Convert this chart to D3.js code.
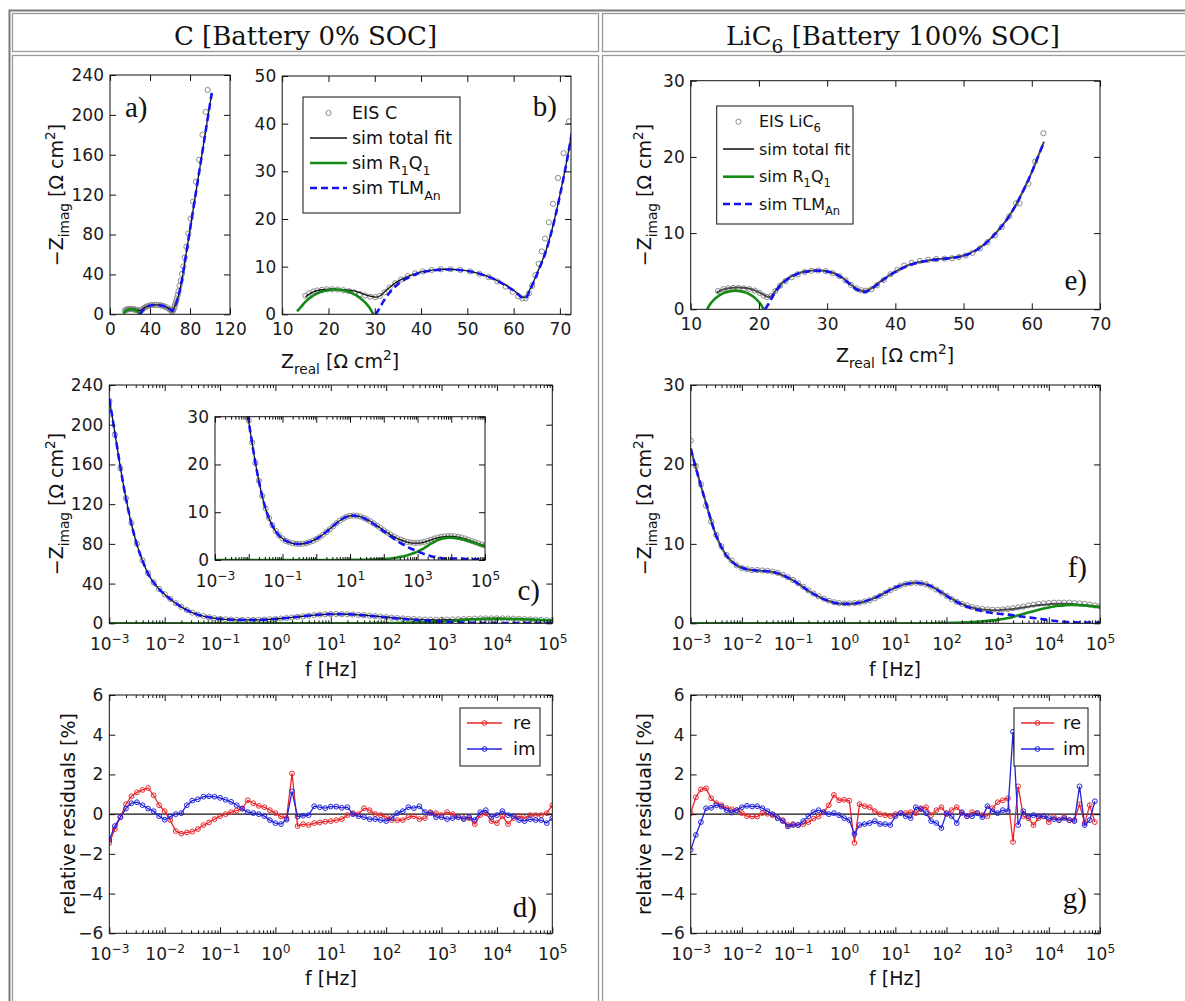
<!DOCTYPE html>
<html>
<head>
<meta charset="utf-8">
<script src="https://cdn.jsdelivr.net/npm/d3@7"></script>
<style>body{margin:0;background:#fff}svg{display:block}</style>
</head>
<body>
<script>
// ---------------- data ----------------
const columnTitles = [
  [["C [Battery 0% SOC]", ""]],
  [["LiC", ""], ["6", "sub"], [" [Battery 100% SOC]", ""]]
];

// measurement frequency grid (decade exponent of f in Hz)
const freqExp = [-3,-2.9,-2.8,-2.7,-2.6,-2.5,-2.4,-2.3,-2.2,-2.1,-2,-1.9,-1.8,-1.7,-1.6,-1.5,-1.4,-1.3,-1.2,-1.1,
  -1,-0.9,-0.8,-0.7,-0.6,-0.5,-0.4,-0.3,-0.2,-0.1,0,0.1,0.2,0.3,0.4,0.5,0.6,0.7,0.8,0.9,
  1,1.1,1.2,1.3,1.4,1.5,1.6,1.7,1.8,1.9,2,2.1,2.2,2.3,2.4,2.5,2.6,2.7,2.8,2.9,
  3,3.1,3.2,3.3,3.4,3.5,3.6,3.7,3.8,3.9,4,4.1,4.2,4.3,4.4,4.5,4.6,4.7,4.8,4.9,5];

// ---- C (0% SOC): -Zimag vs f ----
const cEisBode = [224,190,156,126,101,80,63.5,50.5,41.2,34.6, 29.2,24.6,20.3,16.6,13.4,10.8,8.8,7.3,6.05,5.15,
  4.5,4.0,3.7,3.5,3.4,3.35,3.4,3.5,3.75,4.0, 4.35,4.8,5.3,5.85,6.45,7.05,7.7,8.25,8.7,9.05,
  9.25,9.3,9.25,9.1,8.85,8.5,8.1,7.65,7.2,6.7, 6.2,5.75,5.3,4.9,4.55,4.25,4.0,3.8,3.65,3.6,
  3.6,3.65,3.8,4.0,4.25,4.5,4.7,4.85,4.95,5.0, 5.0,4.95,4.85,4.7,4.5,4.25,4.0,3.75,3.5,3.25, 3.05];
const cFitBode = [226,192,157,126,100,79,63,50,41,34.5, 29,24.5,20.2,16.5,13.3,10.7,8.7,7.2,6.0,5.1,
  4.5,4.0,3.7,3.5,3.4,3.35,3.4,3.55,3.75,4.05, 4.4,4.85,5.35,5.9,6.5,7.1,7.7,8.25,8.7,9.05,
  9.25,9.3,9.25,9.1,8.85,8.5,8.1,7.65,7.2,6.7, 6.2,5.75,5.3,4.9,4.5,4.2,3.95,3.75,3.6,3.55,
  3.55,3.6,3.75,3.95,4.2,4.45,4.65,4.8,4.9,4.95, 4.95,4.9,4.8,4.65,4.45,4.2,3.95,3.7,3.45,3.2, 3.0];
const cRQBode = [0,0,0,0,0,0,0,0,0,0, 0,0,0,0,0,0,0,0,0,0, 0,0,0,0,0,0,0,0,0,0, 0,0,0,0,0,0,0,0,0,0,
  0.02,0.02,0.03,0.04,0.05,0.07,0.09,0.11,0.14,0.17, 0.2,0.26,0.33,0.42,0.52,0.65,0.8,0.98,1.2,1.45,
  1.75,2.1,2.5,2.95,3.4,3.8,4.15,4.4,4.58,4.65, 4.65,4.6,4.5,4.37,4.2,4.0,3.78,3.55,3.3,3.05, 2.8];
const cTlmBode = [226,192,157,126,100,79,63,50,41,34.5, 29,24.5,20.2,16.5,13.3,10.7,8.7,7.2,6.0,5.1,
  4.5,4.0,3.7,3.5,3.4,3.35,3.4,3.55,3.75,4.05, 4.4,4.85,5.35,5.9,6.5,7.1,7.7,8.25,8.7,9.05,
  9.23,9.28,9.22,9.06,8.8,8.43,8.01,7.54,7.06,6.53, 6.0,5.49,4.97,4.48,3.98,3.55,3.15,2.77,2.4,2.1,
  1.8,1.5,1.25,1.0,0.8,0.65,0.5,0.4,0.32,0.3, 0.3,0.3,0.3,0.28,0.25,0.2,0.17,0.15,0.15,0.15, 0.2];
const cResRe = [-1.45,-0.75,-0.15,0.5,0.9,1.1,1.22,1.32,0.95,0.45, 0.15,-0.3,-0.85,-0.98,-0.92,-0.88,-0.75,-0.55,-0.42,-0.25,
  -0.1,0.0,0.1,0.18,0.28,0.7,0.55,0.42,0.35,0.2, 0.05,-0.12,-0.2,2.05,-0.6,-0.5,-0.55,-0.45,-0.42,-0.38,
  -0.35,-0.3,-0.25,-0.05,0.05,0.0,0.3,0.2,0.0,-0.05, -0.15,-0.3,-0.3,-0.3,-0.15,-0.1,-0.25,-0.2,0.1,0.05,
  -0.05,0.1,0.0,-0.15,-0.2,-0.2,-0.5,-0.05,0.05,-0.35, -0.45,-0.1,-0.5,-0.2,-0.1,-0.2,-0.05,-0.05,-0.05,0.05, 0.45];
const cResIm = [-1.3,-0.6,-0.15,0.28,0.55,0.6,0.45,0.28,0.15,-0.1, -0.28,-0.12,0.0,0.05,0.45,0.68,0.75,0.88,0.9,0.88,
  0.82,0.72,0.62,0.45,0.28,0.1,0.05,0.0,-0.1,-0.3, -0.45,-0.5,-0.28,1.15,-0.12,-0.08,-0.05,0.4,0.35,0.3,
  0.38,0.38,0.32,0.35,0.0,-0.1,-0.15,-0.25,-0.25,-0.3, -0.35,-0.2,0.05,0.15,0.35,0.3,0.4,0.1,0.05,-0.15,
  -0.15,-0.25,-0.2,-0.15,-0.25,-0.15,-0.3,0.1,0.2,-0.15, -0.05,0.15,-0.05,-0.1,-0.3,-0.35,-0.25,-0.3,-0.3,-0.45, -0.2];

// ---- C (0% SOC): Nyquist [Zreal, -Zimag] ----
const cEisNyq = [[15.0,3.9],[15.8,4.4],[16.7,4.8],[17.6,5.0],[18.6,5.15],[19.7,5.25],[20.8,5.25],[22.0,5.2],[23.2,5.05],
  [24.4,4.85],[25.6,4.6],[26.8,4.25],[27.9,3.95],[29.0,3.7],[30.1,3.6],[31.1,3.85],[32.1,4.6],[33.2,5.6],[34.4,6.5],
  [35.7,7.3],[37.1,8.0],[38.7,8.6],[40.4,9.0],[42.3,9.3],[44.3,9.45],[46.4,9.45],[48.5,9.3],[50.6,9.0],[52.6,8.5],
  [54.6,7.8],[56.5,6.9],[58.3,5.8],[59.8,4.7],[61.0,3.8],[61.9,3.3],[62.6,3.4],[63.3,4.4],[64.0,6.0],[64.7,8.2],
  [65.4,10.6],[66.1,13.2],[66.8,15.9],[67.6,19.3],[68.5,23.2],[69.6,28.6],[70.8,33.8],[72.0,40.5],[73.3,48],
  [74.7,57],[76.4,68],[78.4,81],[80.6,96],[83.1,113],[85.9,133],[89.1,155],[92.5,180],[95.6,203],[97.6,225]];
const cFitNyq = [[15.0,3.6],[15.6,4.1],[17.0,4.8],[18.6,5.15],[20.3,5.3],[22.4,5.25],[24.5,5.05],[26.4,4.65],[28.0,4.1],
  [29.3,3.75],[30.3,3.6],[31.2,3.9],[32.2,4.8],[33.5,5.9],[35.0,6.9],[36.8,7.8],[38.6,8.5],[40.6,9.0],[42.8,9.3],
  [45.0,9.45],[47.2,9.4],[49.3,9.2],[51.4,8.85],[53.5,8.25],[55.6,7.5],[57.6,6.5],[59.5,5.4],[61.0,4.3],[62.0,3.6],
  [62.7,3.7],[63.4,5.0],[64.3,6.8],[65.5,9.6],[66.8,12.8],[68.3,17.8],[70.0,25.0],[72.2,36],[75,53.6],[80,85],
  [85,116.5],[90,148],[95,179.5],[100,211],[101.8,222]];
const cRQNyq = [[13.2,0.6],[14,1.48],[15,2.61],[16,3.45],[17.5,4.33],[19,4.88],[21.4,5.2],[23.8,4.88],[25.3,4.33],
  [26.8,3.45],[27.8,2.61],[28.8,1.48],[29.7,0]];
const cTlmNyq = [[30.2,0],[30.8,0.9],[31.8,2.6],[33,4.3],[34.5,5.9],[36.5,7.3],[38.6,8.3],[40.6,8.9],[42.8,9.25],
  [45.0,9.4],[47.2,9.38],[49.3,9.18],[51.4,8.83],[53.5,8.22],[55.6,7.45],[57.6,6.45],[59.5,5.3],[61.0,4.15],[62.0,3.4],
  [62.7,3.5],[63.4,4.8],[64.3,6.7],[65.5,9.5],[66.8,12.7],[68.3,17.7],[70.0,24.9],[72.2,35.9],[75,53.5],[80,84.9],
  [85,116.4],[90,147.9],[95,179.4],[100,210.9],[101.8,221.9]];

// ---- LiC6 (100% SOC): -Zimag vs f ----
const lEisBode = [23.0,19.8,17.5,14.8,12.8,11.1,9.7,8.6,7.9,7.3, 6.95,6.8,6.7,6.7,6.65,6.6,6.5,6.35,6.1,5.8,
  5.45,5.05,4.6,4.15,3.75,3.4,3.1,2.85,2.65,2.55, 2.5,2.5,2.55,2.6,2.75,2.9,3.15,3.45,3.8,4.15,
  4.45,4.75,4.95,5.05,5.1,5.05,4.9,4.6,4.25,3.85, 3.45,3.05,2.7,2.45,2.25,2.05,1.9,1.8,1.75,1.7,
  1.7,1.75,1.8,1.9,2.0,2.1,2.25,2.35,2.45,2.5, 2.55,2.6,2.6,2.6,2.6,2.55,2.5,2.45,2.35,2.25, 2.15];
const lFitBode = [22.0,19.6,17.3,15.1,12.9,11.0,9.6,8.5,7.8,7.3, 7.0,6.8,6.7,6.65,6.6,6.55,6.45,6.3,6.05,5.75,
  5.4,5.0,4.55,4.1,3.7,3.35,3.05,2.8,2.6,2.5, 2.45,2.45,2.5,2.6,2.75,2.95,3.2,3.5,3.85,4.2,
  4.5,4.75,4.95,5.05,5.1,5.05,4.9,4.65,4.3,3.9, 3.5,3.1,2.75,2.45,2.2,2.0,1.85,1.75,1.7,1.65,
  1.65,1.7,1.75,1.8,1.9,2.0,2.1,2.2,2.3,2.35, 2.4,2.45,2.45,2.45,2.45,2.4,2.35,2.3,2.25,2.15, 2.1];
const lRQBode = [0,0,0,0,0,0,0,0,0,0, 0,0,0,0,0,0,0,0,0,0, 0,0,0,0,0,0,0,0,0,0, 0,0,0,0,0,0,0,0,0,0,
  0,0,0,0,0,0,0,0,0.02,0.03, 0.04,0.05,0.07,0.09,0.12,0.15,0.19,0.24,0.3,0.37,
  0.45,0.55,0.66,0.79,1.0,1.17,1.35,1.53,1.7,1.86, 2.0,2.12,2.2,2.26,2.3,2.3,2.28,2.24,2.18,2.1, 2.02];
const lTlmBode = [22.0,19.6,17.3,15.1,12.9,11.0,9.6,8.5,7.8,7.3, 7.0,6.8,6.7,6.65,6.6,6.55,6.45,6.3,6.05,5.75,
  5.4,5.0,4.55,4.1,3.7,3.35,3.05,2.8,2.6,2.5, 2.45,2.45,2.5,2.6,2.75,2.95,3.2,3.5,3.85,4.2,
  4.5,4.75,4.95,5.05,5.1,5.05,4.9,4.65,4.28,3.87, 3.46,3.05,2.68,2.36,2.08,1.85,1.66,1.51,1.4,1.28,
  1.2,1.15,1.09,1.01,0.9,0.83,0.75,0.67,0.6,0.49, 0.4,0.33,0.25,0.19,0.15,0.12,0.1,0.1,0.1,0.1, 0.1];
const lResRe = [0.05,0.85,1.25,1.3,0.8,0.55,0.45,0.3,0.25,0.2, 0.05,-0.1,-0.12,-0.12,0.05,0.02,-0.05,-0.2,-0.3,-0.55,
  -0.5,-0.55,-0.5,-0.4,-0.22,-0.12,0.1,0.45,0.97,0.7, 0.72,0.68,-1.45,0.5,0.4,0.35,0.15,0.0,-0.05,-0.1,
  0.0,0.05,0.05,0.1,0.05,0.3,0.35,-0.05,0.2,0.35, 0.0,0.2,0.35,0.05,-0.1,0.1,0.05,-0.05,-0.1,0.3,
  0.6,0.7,0.8,-1.4,1.4,-0.1,-0.2,-0.55,-0.2,-0.1, -0.4,-0.15,-0.3,-0.15,-0.3,-0.3,0.5,-0.45,0.45,-0.4];
const lResIm = [-1.8,-1.05,-0.4,0.3,0.32,0.45,0.38,0.2,0.08,0.2, 0.35,0.42,0.38,0.4,0.3,0.15,0.0,-0.2,-0.35,-0.62,
  -0.55,-0.55,-0.35,-0.1,0.1,0.2,0.1,0.0,0.05,-0.05, -0.2,-0.3,-1.0,-0.55,-0.5,-0.45,-0.35,-0.5,-0.5,-0.55,
  -0.1,0.05,-0.1,-0.2,0.35,0.25,0.05,-0.35,-0.45,-0.7, 0.05,-0.1,-0.45,0.1,-0.1,-0.1,0.05,-0.15,0.4,0.15,
  0.05,0.2,0.15,4.15,-0.55,0.15,-0.1,-0.05,-0.1,-0.1, -0.2,-0.25,-0.3,-0.2,-0.3,-0.35,1.4,-0.55,-0.3,0.65];

// ---- LiC6 (100% SOC): Nyquist [Zreal, -Zimag] ----
const lEisNyq = [[14.0,2.4],[14.8,2.65],[15.5,2.75],[16.2,2.8],[17.0,2.8],[17.8,2.75],[18.6,2.65],[19.4,2.45],[20.1,2.15],
  [20.7,1.8],[21.2,1.6],[21.8,1.75],[22.4,2.4],[23.1,3.1],[23.9,3.7],[24.8,4.2],[25.7,4.6],[26.7,4.9],[27.7,5.05],
  [28.7,5.1],[29.8,5.0],[30.8,4.75],[31.8,4.35],[32.7,3.8],[33.5,3.2],[34.3,2.75],[35.0,2.5],[35.7,2.45],[36.5,2.65],
  [37.3,3.15],[38.3,3.85],[39.3,4.6],[40.3,5.2],[41.3,5.75],[42.4,6.1],[43.6,6.35],[44.8,6.5],[46.0,6.6],[47.2,6.65],
  [48.3,6.7],[49.3,6.85],[50.3,7.05],[51.3,7.4],[52.4,8.0],[53.5,8.8],[54.6,9.7],[55.6,10.8],[56.7,12.2],[57.7,13.9],
  [58.2,13.9],[59.5,16.5],[60.5,19.4],[61.7,23.1]];
const lFitNyq = [[13.8,2.2],[14.6,2.55],[15.6,2.75],[16.8,2.85],[18.0,2.8],[19.2,2.55],[20.3,2.1],[21.1,1.7],[21.6,1.6],
  [22.1,2.0],[22.8,2.9],[23.7,3.7],[24.8,4.35],[26.0,4.8],[27.5,5.05],[29.0,5.1],[30.5,4.9],[31.9,4.35],[33.0,3.6],
  [34.0,2.9],[34.8,2.5],[35.5,2.4],[36.3,2.65],[37.3,3.3],[38.5,4.1],[39.8,4.85],[41.3,5.55],[43.0,6.1],[45.0,6.45],
  [47.0,6.65],[49.0,6.85],[50.5,7.2],[51.8,7.75],[53.0,8.5],[54.2,9.5],[55.3,10.6],[56.5,12.0],[57.6,13.6],[58.7,15.5],
  [59.8,17.6],[60.8,19.8],[61.8,22.0]];
const lRQNyq = [[12.4,0],[13,0.85],[13.5,1.34],[14.2,1.83],[15,2.19],[15.8,2.38],[16.55,2.45],[17.3,2.38],[18.1,2.19],
  [18.9,1.83],[19.6,1.34],[20.1,0.85],[20.7,0]];
const lTlmNyq = [[20.9,0],[21.4,0.7],[21.9,1.5],[22.6,2.5],[23.5,3.4],[24.6,4.2],[26.0,4.75],[27.5,5.0],[29.0,5.05],
  [30.5,4.85],[31.9,4.3],[33.0,3.55],[34.0,2.8],[34.8,2.35],[35.5,2.25],[36.3,2.55],[37.3,3.2],[38.5,4.05],[39.8,4.8],
  [41.3,5.5],[43.0,6.05],[45.0,6.4],[47.0,6.62],[49.0,6.82],[50.5,7.17],[51.8,7.72],[53.0,8.47],[54.2,9.47],[55.3,10.57],
  [56.5,11.97],[57.6,13.57],[58.7,15.47],[59.8,17.57],[60.8,19.77],[61.8,21.97]];

// tick values
const ticksA_x = [0, 40, 80, 120], ticksA_y = [0, 40, 80, 120, 160, 200, 240];
const ticksB_x = [10, 20, 30, 40, 50, 60, 70], ticksB_y = [0, 10, 20, 30, 40, 50];
const ticksE_x = [10, 20, 30, 40, 50, 60, 70], ticksE_y = [0, 10, 20, 30];
const decades = [1e-3, 1e-2, 1e-1, 1e0, 1e1, 1e2, 1e3, 1e4, 1e5];
const insetLabels = [1e-3, 1e-1, 1e1, 1e3, 1e5];
const ticksZC = [0, 40, 80, 120, 160, 200, 240], ticksZL = [0, 10, 20, 30], ticksInset = [0, 10, 20, 30];
const ticksRes = [-6, -4, -2, 0, 2, 4, 6];

// ---------------- drawing ----------------
const W = 1185, H = 1001, TICK_FS = 17, LABEL_FS = 19;
const svg = d3.select("body").append("svg").attr("width", W).attr("height", H)
  .attr("font-family", "'DejaVu Sans', sans-serif");
svg.append("rect").attr("width", W).attr("height", H).attr("fill", "#fff");
const defs = svg.append("defs");

// text with sub- and superscripts: parts = [[text, ""|"sub"|"sup"], ...]
function rich(text, parts, fs) {
  let shift = 0;
  parts.forEach(([t, m]) => {
    const s = m === "sub" ? 0.3 * fs : m === "sup" ? -0.42 * fs : 0;
    const ts = text.append("tspan").attr("dy", (s - shift).toFixed(2)).text(t);
    if (m) ts.attr("font-size", (fs * 0.72).toFixed(1));
    shift = s;
  });
  return text;
}

// table frame
const frame = svg.append("g").attr("fill", "none");
frame.append("rect").attr("x", 9.5).attr("y", 10.5).attr("width", 1220).attr("height", 1100)
  .attr("stroke", "#7a7a7a").attr("stroke-width", 2);
[[12.5, 13.5, 586, 38], [602.5, 13.5, 620, 38], [12.5, 55.5, 586, 1000], [602.5, 55.5, 620, 1000]]
  .forEach(([x, y, w, h]) => frame.append("rect").attr("x", x).attr("y", y).attr("width", w).attr("height", h)
    .attr("stroke", "#9a9a9a").attr("stroke-width", 1.3));

const HEAD_FS = 26;
const head = svg.append("g").attr("font-family", "'DejaVu Serif', serif").attr("fill", "#111")
  .attr("text-anchor", "middle").attr("font-size", HEAD_FS);
rich(head.append("text").attr("x", 305.5).attr("y", 45), columnTitles[0], HEAD_FS);
rich(head.append("text").attr("x", 893).attr("y", 45), columnTitles[1], HEAD_FS);

// an axes box with clipped plotting layer
function axes(o) {
  const x = (o.log ? d3.scaleLog() : d3.scaleLinear()).domain(o.xd).range([o.l, o.r]);
  const y = d3.scaleLinear().domain(o.yd).range([o.b, o.t]);
  const g = svg.append("g");
  if (o.bg) g.append("rect").attr("x", o.l).attr("y", o.t).attr("width", o.r - o.l).attr("height", o.b - o.t).attr("fill", "#fff");
  const id = "clip" + defs.selectAll("clipPath").size();
  defs.append("clipPath").attr("id", id).append("rect")
    .attr("x", o.l).attr("y", o.t).attr("width", o.r - o.l).attr("height", o.b - o.t);
  const plot = g.append("g").attr("clip-path", `url(#${id})`);
  return { x, y, g, plot, o };
}

const isDecade = v => Math.abs(Math.log10(v) - Math.round(Math.log10(v))) < 1e-9;
function tidy(s) {
  s.select(".domain").remove();
  s.attr("font-size", TICK_FS).attr("font-family", null);
  s.selectAll("line").attr("stroke", "#111").attr("stroke-width", 1);
  s.selectAll("text").attr("fill", "#1a1a1a");
}

// ticks on all four sides (pointing inwards), labels on bottom and left
function decorate(ax) {
  const { x, y, g, o } = ax;
  const tg = g.append("g");
  if (o.log) {
    const minor = x.ticks().filter(v => !isDecade(v));
    tg.append("g").attr("transform", `translate(0,${o.b})`)
      .call(d3.axisBottom(x).tickValues(minor).tickSize(-3).tickFormat("")).call(tidy);
    tg.append("g").attr("transform", `translate(0,${o.t})`)
      .call(d3.axisTop(x).tickValues(minor).tickSize(-3).tickFormat("")).call(tidy);
  }
  const bottom = d3.axisBottom(x).tickValues(o.xTicks).tickSize(-6).tickPadding(o.log ? 15 : 9);
  if (o.log) bottom.tickFormat(() => "");
  const bg = tg.append("g").attr("transform", `translate(0,${o.b})`).call(bottom).call(tidy);
  if (o.log) {
    const labels = o.xLabels || o.xTicks;
    bg.selectAll(".tick text").each(function (d) {
      if (!labels.some(v => Math.abs(v - d) / v < 1e-9)) return;
      const e = Math.round(Math.log10(d));
      const t = d3.select(this);
      t.append("tspan").text("10");
      t.append("tspan").attr("dy", "-0.6em").attr("font-size", "0.72em").text(e < 0 ? "\u2212" + (-e) : String(e));
    });
  }
  tg.append("g").attr("transform", `translate(0,${o.t})`)
    .call(d3.axisTop(x).tickValues(o.xTicks).tickSize(-6).tickFormat("")).call(tidy);
  tg.append("g").attr("transform", `translate(${o.l},0)`)
    .call(d3.axisLeft(y).tickValues(o.yTicks).tickSize(-6).tickPadding(6)).call(tidy);
  tg.append("g").attr("transform", `translate(${o.r},0)`)
    .call(d3.axisRight(y).tickValues(o.yTicks).tickSize(-6).tickFormat("")).call(tidy);
  g.append("rect").attr("x", o.l).attr("y", o.t).attr("width", o.r - o.l).attr("height", o.b - o.t)
    .attr("fill", "none").attr("stroke", "#111").attr("stroke-width", 1);
}

const STY = {
  eis: { r: 2.6, stroke: "#8a8a8a", fill: "none" },
  fitC: { stroke: "#111", width: 1.3 },
  fitL: { stroke: "#4a4a4a", width: 2 },
  rq: { stroke: "#138a13", width: 2.6 },
  tlm: { stroke: "#1414f0", width: 2.6, dash: "7,4" },
  re: { stroke: "#e8262b" },
  im: { stroke: "#2222dd" }
};

function drawLine(layer, pts, gen, st) {
  layer.append("path").attr("d", gen(pts)).attr("fill", "none").attr("stroke", st.stroke)
    .attr("stroke-width", st.width).attr("stroke-dasharray", st.dash || null)
    .attr("stroke-linejoin", "round");
}
function drawMarkers(layer, pts, ax, st) {
  layer.append("g").selectAll("circle").data(pts).join("circle")
    .attr("cx", d => ax.x(d[0])).attr("cy", d => ax.y(d[1])).attr("r", st.r)
    .attr("fill", st.fill).attr("stroke", st.stroke).attr("stroke-width", 1);
}

const nyqGen = ax => d3.line().x(d => ax.x(d[0])).y(d => ax.y(d[1])).curve(d3.curveCatmullRom.alpha(0.5));
const bodeGen = ax => d3.line().x(d => ax.x(d[0])).y(d => ax.y(d[1])).curve(d3.curveMonotoneX);
const vsFreq = arr => arr.map((v, i) => [Math.pow(10, freqExp[i]), v]);

function impedance(ax, set, gen, fitSty) {
  drawMarkers(ax.plot, set.eis, ax, STY.eis);
  drawLine(ax.plot, set.fit, gen, fitSty);
  drawLine(ax.plot, set.rq, gen, STY.rq);
  drawLine(ax.plot, set.tlm, gen, STY.tlm);
}

function residuals(ax, re, im) {
  ax.plot.append("line").attr("x1", ax.o.l).attr("x2", ax.o.r).attr("y1", ax.y(0)).attr("y2", ax.y(0))
    .attr("stroke", "#111").attr("stroke-width", 1.2);
  const gen = d3.line().x(d => ax.x(d[0])).y(d => ax.y(d[1]));
  [[re, STY.re], [im, STY.im]].forEach(([arr, st]) => {
    const pts = vsFreq(arr);
    ax.plot.append("path").attr("d", gen(pts)).attr("fill", "none").attr("stroke", st.stroke).attr("stroke-width", 1.3);
    drawMarkers(ax.plot, pts, ax, { r: 2.4, stroke: st.stroke, fill: "none" });
  });
}

function legend(g, o) {
  const lg = g.append("g");
  lg.append("rect").attr("x", o.x0).attr("y", o.y0).attr("width", o.x1 - o.x0).attr("height", o.y1 - o.y0)
    .attr("fill", "#fff").attr("stroke", "#111").attr("stroke-width", 1);
  o.rows.forEach(r => {
    if (r.line) lg.append("line").attr("x1", o.h0).attr("x2", o.h1).attr("y1", r.y).attr("y2", r.y)
      .attr("stroke", r.line.stroke).attr("stroke-width", r.line.width || 1.3).attr("stroke-dasharray", r.line.dash || null);
    if (r.marker) lg.append("circle").attr("cx", (o.h0 + o.h1) / 2).attr("cy", r.y).attr("r", r.marker.r || 2.4)
      .attr("fill", r.marker.fill || "none").attr("stroke", r.marker.stroke).attr("stroke-width", 1);
    rich(lg.append("text").attr("x", o.tx).attr("y", r.y + o.fs * 0.36).attr("font-size", o.fs).attr("fill", "#111"), r.label, o.fs);
  });
}

function panelTag(text, x, y, anchor) {
  svg.append("text").attr("x", x).attr("y", y).attr("text-anchor", anchor || "end")
    .attr("font-family", "'Liberation Serif', 'Times New Roman', serif").attr("font-size", 29)
    .attr("fill", "#111").text(text);
}
const zImagLabel = [["\u2212Z", ""], ["imag", "sub"], [" [\u03a9 cm", ""], ["2", "sup"], ["]", ""]];
const zRealLabel = [["Z", ""], ["real", "sub"], [" [\u03a9 cm", ""], ["2", "sup"], ["]", ""]];
function yLabel(parts, x, y) {
  rich(svg.append("text").attr("transform", `translate(${x},${y}) rotate(-90)`).attr("text-anchor", "middle")
    .attr("font-size", LABEL_FS).attr("fill", "#111"), parts, LABEL_FS);
}
function xLabel(parts, x, y) {
  rich(svg.append("text").attr("x", x).attr("y", y).attr("text-anchor", "middle")
    .attr("font-size", LABEL_FS).attr("fill", "#111"), parts, LABEL_FS);
}

// ----- left column: C -----
const setC_nyq = { eis: cEisNyq, fit: cFitNyq, rq: cRQNyq, tlm: cTlmNyq };
const setC_bode = { eis: vsFreq(cEisBode), fit: vsFreq(cFitBode), rq: vsFreq(cRQBode), tlm: vsFreq(cTlmBode) };

const axA = axes({ l: 110, r: 230, t: 75, b: 314.3, xd: [0, 120], yd: [0, 240], xTicks: ticksA_x, yTicks: ticksA_y });
impedance(axA, setC_nyq, nyqGen(axA), STY.fitC);
decorate(axA);
panelTag("a)", 125, 117, "start");

const axB = axes({ l: 282.2, r: 571, t: 76, b: 314.3, xd: [10, 72.4], yd: [0, 50], xTicks: ticksB_x, yTicks: ticksB_y });
impedance(axB, setC_nyq, nyqGen(axB), STY.fitC);
decorate(axB);
panelTag("b)", 557, 116);
legend(axB.g, { x0: 303, y0: 97, x1: 460, y1: 213, h0: 310, h1: 347, tx: 352, fs: 17.5, rows: [
  { y: 113, marker: STY.eis, label: [["EIS C", ""]] },
  { y: 138, line: STY.fitC, label: [["sim total fit", ""]] },
  { y: 163, line: STY.rq, label: [["sim R", ""], ["1", "sub"], ["Q", ""], ["1", "sub"]] },
  { y: 188, line: STY.tlm, label: [["sim TLM", ""], ["An", "sub"]] }
]});
yLabel(zImagLabel, 63, 195);
xLabel(zRealLabel, 340, 368);

const axC = axes({ l: 109.3, r: 552.3, t: 385, b: 623.3, log: true, xd: [1e-3, 1e5], yd: [0, 240], xTicks: decades, yTicks: ticksZC });
impedance(axC, setC_bode, bodeGen(axC), STY.fitC);
decorate(axC);
panelTag("c)", 540, 600);
yLabel(zImagLabel, 63, 504);
xLabel([["f [Hz]", ""]], 331, 676);

const axCi = axes({ l: 215, r: 485, t: 416.7, b: 560, log: true, bg: true, xd: [1e-3, 1e5], yd: [0, 30],
  xTicks: decades, xLabels: insetLabels, yTicks: ticksInset });
impedance(axCi, setC_bode, bodeGen(axCi), STY.fitC);
decorate(axCi);

const axD = axes({ l: 109.3, r: 552.3, t: 695, b: 933.3, log: true, xd: [1e-3, 1e5], yd: [-6, 6], xTicks: decades, yTicks: ticksRes });
residuals(axD, cResRe, cResIm);
decorate(axD);
panelTag("d)", 537, 917);
legend(axD.g, { x0: 460, y0: 708, x1: 540, y1: 766, h0: 467, h1: 502, tx: 513, fs: 18, rows: [
  { y: 723, line: { stroke: STY.re.stroke, width: 1.3 }, marker: { stroke: STY.re.stroke }, label: [["re", ""]] },
  { y: 749, line: { stroke: STY.im.stroke, width: 1.3 }, marker: { stroke: STY.im.stroke }, label: [["im", ""]] }
]});
yLabel([["relative residuals [%]", ""]], 75, 814);
xLabel([["f [Hz]", ""]], 331, 985);

// ----- right column: LiC6 -----
const setL_nyq = { eis: lEisNyq, fit: lFitNyq, rq: lRQNyq, tlm: lTlmNyq };
const setL_bode = { eis: vsFreq(lEisBode), fit: vsFreq(lFitBode), rq: vsFreq(lRQBode), tlm: vsFreq(lTlmBode) };

const axE = axes({ l: 690.7, r: 1100, t: 80.7, b: 309.3, xd: [10, 70], yd: [0, 30], xTicks: ticksE_x, yTicks: ticksE_y });
impedance(axE, setL_nyq, nyqGen(axE), STY.fitL);
decorate(axE);
panelTag("e)", 1087, 290);
legend(axE.g, { x0: 716.7, y0: 106, x1: 853, y1: 224, h0: 723, h1: 754, tx: 759, fs: 16, rows: [
  { y: 121.7, marker: STY.eis, label: [["EIS LiC", ""], ["6", "sub"]] },
  { y: 149, line: STY.fitL, label: [["sim total fit", ""]] },
  { y: 176.7, line: STY.rq, label: [["sim R", ""], ["1", "sub"], ["Q", ""], ["1", "sub"]] },
  { y: 204, line: STY.tlm, label: [["sim TLM", ""], ["An", "sub"]] }
]});
yLabel(zImagLabel, 651, 195);
xLabel(zRealLabel, 895, 362);

const axF = axes({ l: 690.7, r: 1100, t: 385, b: 623.3, log: true, xd: [1e-3, 1e5], yd: [0, 30], xTicks: decades, yTicks: ticksZL });
impedance(axF, setL_bode, bodeGen(axF), STY.fitL);
decorate(axF);
panelTag("f)", 1087, 577);
yLabel(zImagLabel, 651, 504);
xLabel([["f [Hz]", ""]], 895, 676);

const axG = axes({ l: 690.7, r: 1100, t: 695, b: 933.3, log: true, xd: [1e-3, 1e5], yd: [-6, 6], xTicks: decades, yTicks: ticksRes });
residuals(axG, lResRe, lResIm);
decorate(axG);
panelTag("g)", 1087, 908);
legend(axG.g, { x0: 1014, y0: 708, x1: 1088, y1: 766, h0: 1021, h1: 1054, tx: 1063, fs: 18, rows: [
  { y: 723, line: { stroke: STY.re.stroke, width: 1.3 }, marker: { stroke: STY.re.stroke }, label: [["re", ""]] },
  { y: 749, line: { stroke: STY.im.stroke, width: 1.3 }, marker: { stroke: STY.im.stroke }, label: [["im", ""]] }
]});
yLabel([["relative residuals [%]", ""]], 651, 814);
xLabel([["f [Hz]", ""]], 895, 985);
</script>
</body>
</html>
